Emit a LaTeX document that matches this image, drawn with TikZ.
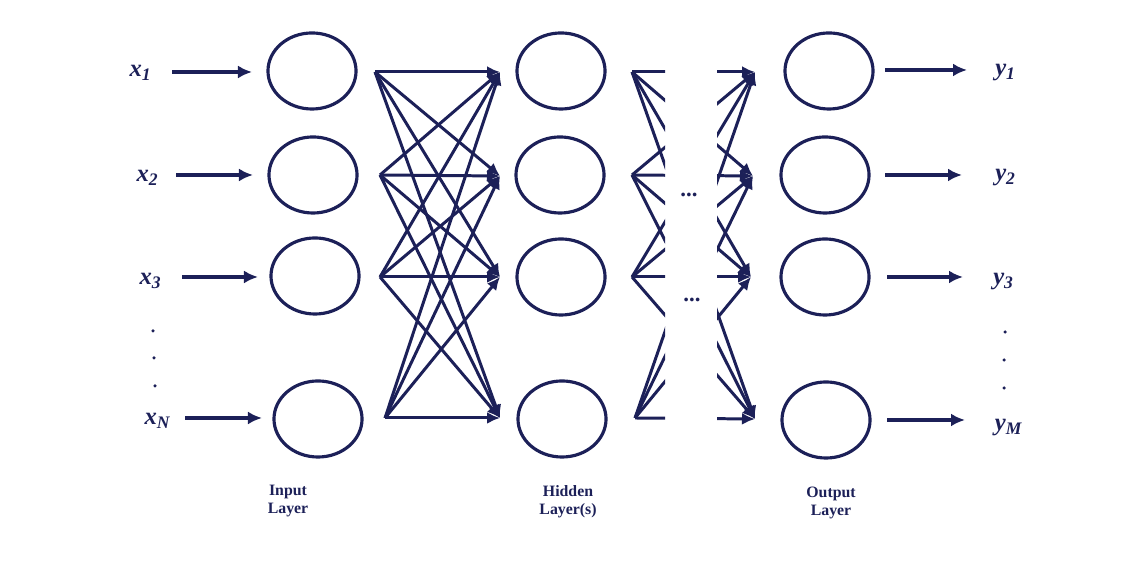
\documentclass[tikz,border=0pt]{standalone}
\usepackage{fontspec}
\setmainfont{Liberation Serif}
\usetikzlibrary{shapes.geometric,arrows.meta}

\definecolor{ink}{RGB}{28,32,88}

\tikzset{
  neuron/.style={draw=ink, ellipse, line width=0.9pt, minimum width=0.88cm, minimum height=0.76cm, inner sep=0pt},
  feed/.style={-{Latex[length=1.4mm,width=1.3mm]}, draw=ink, line width=1.3pt},
  link/.style={-{Latex[length=1.3mm,width=1.2mm]}, draw=ink, line width=0.85pt},
  var/.style={text=ink, font=\fontsize{7}{8}\selectfont\bfseries\itshape, inner sep=0pt},
  layername/.style={text=ink, font=\fontsize{4.5}{5.2}\selectfont\bfseries, align=center},
  dot/.style={circle, fill=ink, inner sep=0pt, minimum size=0.35mm}
}

\begin{document}
\begin{tikzpicture}[x=0.01cm,y=-0.01cm]
\useasboundingbox (0,0) rectangle (1146,562);

% input layer
\node[neuron] (in1) at (312,71) {};
\node[neuron] (in2) at (313,175) {};
\node[neuron] (in3) at (315,276) {};
\node[neuron] (in4) at (318,419) {};

\node[var] (x1) at (141,73) {x\textsubscript{1}};
\node[var] (x2) at (148,178) {x\textsubscript{2}};
\node[var] (x3) at (151,281) {x\textsubscript{3}};
\node[var] (xn) at (158,421) {x\textsubscript{N}};
\node[dot] (xd1) at (153,331) {};
\node[dot] (xd2) at (154,358) {};
\node[dot] (xd3) at (155,386) {};

\coordinate (p1) at (172,72);
\coordinate (p2) at (176,175);
\coordinate (p3) at (182,277);
\coordinate (p4) at (185,418);
\coordinate (q1) at (252,72);
\coordinate (q2) at (253,175);
\coordinate (q3) at (258,277);
\coordinate (q4) at (262,418);
\foreach \i in {1,...,4}
  \draw[feed] (p\i) -- (q\i);

% input -> hidden
\coordinate (a1) at (375,72);
\coordinate (a2) at (380,175);
\coordinate (a3) at (380,277);
\coordinate (a4) at (385,418);
\coordinate (b1) at (500,72);
\coordinate (b2) at (500,176);
\coordinate (b3) at (500,277);
\coordinate (b4) at (500,418);
\foreach \i in {1,...,4}
  \foreach \j in {1,...,4}
    \draw[link] (a\i) -- (b\j);

% hidden layer
\node[neuron] (hid1) at (561,71) {};
\node[neuron] (hid2) at (560,175) {};
\node[neuron] (hid3) at (561,277) {};
\node[neuron] (hid4) at (562,419) {};

% hidden -> output, cut in the middle
\coordinate (c1) at (632,72);
\coordinate (c2) at (632,175);
\coordinate (c3) at (632,277);
\coordinate (c4) at (635,418);
\coordinate (d1) at (755,72);
\coordinate (d2) at (753,176);
\coordinate (d3) at (751,277);
\coordinate (d4) at (755,419);
\begin{scope}
  \clip (600,0) rectangle (665,562);
  \foreach \i in {1,...,4}
    \foreach \j in {1,...,4}
      \draw[draw=ink, line width=0.85pt] (c\i) -- (d\j);
\end{scope}
\begin{scope}
  \clip (717,0) rectangle (790,562);
  \foreach \i in {1,...,4}
    \foreach \j in {1,...,4}
      \draw[link] (c\i) -- (d\j);
\end{scope}

\node[text=ink, font=\fontsize{6.5}{8}\selectfont\bfseries] (gap1) at (689,195) {...};
\node[text=ink, font=\fontsize{6.5}{8}\selectfont\bfseries] (gap2) at (692,300) {...};

% output layer
\node[neuron] (out1) at (829,71) {};
\node[neuron] (out2) at (825,175) {};
\node[neuron] (out3) at (825,277) {};
\node[neuron] (out4) at (826,420) {};

\coordinate (e1) at (885,70);
\coordinate (e2) at (885,175);
\coordinate (e3) at (887,277);
\coordinate (e4) at (887,420);
\coordinate (f1) at (967,70);
\coordinate (f2) at (962,175);
\coordinate (f3) at (963,277);
\coordinate (f4) at (965,420);
\foreach \i in {1,...,4}
  \draw[feed] (e\i) -- (f\i);

\node[var] (y1) at (1006,73) {y\textsubscript{1}};
\node[var] (y2) at (1006,178) {y\textsubscript{2}};
\node[var] (y3) at (1004,282) {y\textsubscript{3}};
\node[var] (ym) at (1009,428) {y\textsubscript{M}};
\node[dot] (yd1) at (1005,332) {};
\node[dot] (yd2) at (1004,360) {};
\node[dot] (yd3) at (1004,388) {};

% layer names
\node[layername] (lin) at (288,501) {Input\\Layer};
\node[layername] (lhid) at (568,502) {Hidden\\Layer(s)};
\node[layername] (lout) at (831,503) {Output\\Layer};

\end{tikzpicture}
\end{document}
